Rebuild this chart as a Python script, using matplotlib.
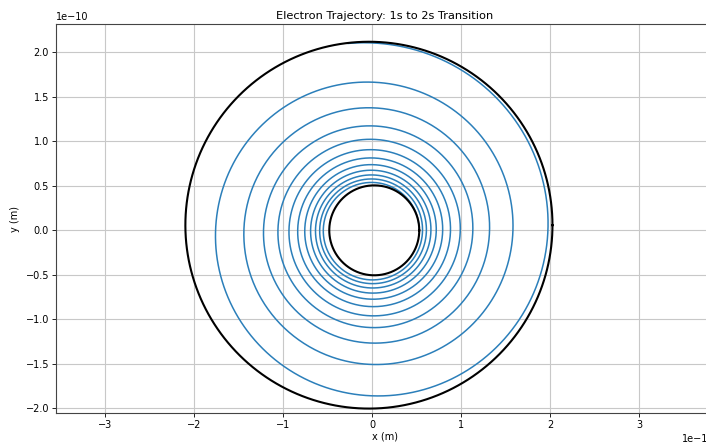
import numpy as np
import matplotlib
matplotlib.use("Agg")
import matplotlib.pyplot as plt

# --- data (units of metres) ---
a0 = 0.529e-10                 # Bohr radius (1s orbit)
r_final = 4 * a0               # 2s orbit radius
n_turns = 11.27                # number of revolutions of the spiral
# reference orbits drawn in black: centres and radii
orbit_cx = [0.025e-10, -0.035e-10]
orbit_cy = [0.0, 0.058e-10]
orbit_r = [0.505e-10, 2.06e-10]

theta = np.linspace(0, 2 * np.pi * n_turns, 6000)
inv_r = 1 / a0 - (1 / a0 - 1 / r_final) * theta / theta[-1]
r = 1 / inv_r
x = r * np.cos(theta)
y = r * np.sin(theta)

fig = plt.figure(figsize=(7.06, 4.43), dpi=100)
ax = fig.add_axes([56 / 706, (443 - 413.3) / 443, 658 / 706, 389 / 443])

ax.plot(x, y, color='#2b7fba', lw=1.1, zorder=2)
phi = np.linspace(0, 2 * np.pi, 800)
for cx, cy, rr in zip(orbit_cx, orbit_cy, orbit_r):
    ax.plot(cx + rr * np.cos(phi), cy + rr * np.sin(phi), color='black', lw=1.5, zorder=3)

ax.set_xlim(-3.547e-10, 3.838e-10)
ax.set_ylim(-2.055e-10, 2.314e-10)
ax.grid(True, color='#c8c8c8', lw=0.8)
ax.set_axisbelow(True)

fs = 7
ax.tick_params(labelsize=fs, length=3, width=0.6, pad=2)
ax.xaxis.get_offset_text().set_fontsize(fs)
ax.yaxis.get_offset_text().set_fontsize(fs)
ax.set_xlabel('x (m)', fontsize=fs, labelpad=1)
ax.set_ylabel('y (m)', fontsize=fs, labelpad=4)
ax.set_title('Electron Trajectory: 1s to 2s Transition', fontsize=8.2, pad=4)
for s in ax.spines.values():
    s.set_linewidth(0.8)
    s.set_color('#444444')

fig.savefig('out.png', dpi=100)
